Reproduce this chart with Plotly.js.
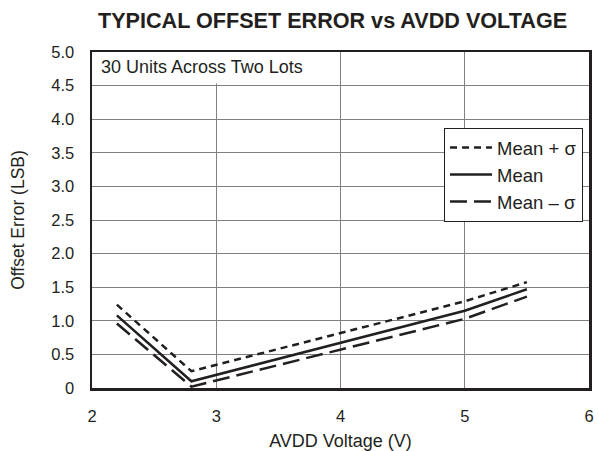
<!DOCTYPE html>
<html>
<head>
<meta charset="utf-8">
<script src="https://cdn.plot.ly/plotly-3.0.1.min.js"></script>
<style>html,body{margin:0;padding:0;background:#fff;}#chart{width:598px;height:451px;}</style>
</head>
<body>
<div id="chart"></div>
<script>
var voltage = [2.2, 2.8, 5.0, 5.5];
var meanPlusSigma = [1.24, 0.25, 1.29, 1.575];
var meanValues = [1.08, 0.10, 1.15, 1.47];
var meanMinusSigma = [0.96, 0.02, 1.03, 1.36];
var seriesNames = ['Mean + \u03c3', 'Mean', 'Mean \u2013 \u03c3'];
var xTicks = [2, 3, 4, 5, 6];
var yTickVals = [0, 0.5, 1, 1.5, 2, 2.5, 3, 3.5, 4, 4.5, 5];
var yTickText = ['0', '0.5', '1.0', '1.5', '2.0', '2.5', '3.0', '3.5', '4.0', '4.5', '5.0'];

var ink = '#231f20';
var font = 'Liberation Sans, Arial, Helvetica, sans-serif';

var traces = [
  {x: voltage, y: meanPlusSigma, name: seriesNames[0], mode: 'lines',
   line: {color: ink, width: 2.5, dash: '7px,5px'}},
  {x: voltage, y: meanValues, name: seriesNames[1], mode: 'lines',
   line: {color: ink, width: 2.5}},
  {x: voltage, y: meanMinusSigma, name: seriesNames[2], mode: 'lines',
   line: {color: ink, width: 2.5, dash: '17px,7px'}}
];

var layout = {
  width: 598, height: 451,
  margin: {l: 92, r: 9, t: 52, b: 62.5},
  paper_bgcolor: '#fff', plot_bgcolor: '#fff',
  font: {family: font, size: 16, color: ink},
  title: {text: '<b>TYPICAL OFFSET ERROR vs AVDD VOLTAGE</b>', font: {family: font, size: 21.6, color: ink},
          x: 0.484, xref: 'paper', xanchor: 'center', y: 0.955, yanchor: 'middle'},
  showlegend: true,
  legend: {x: 0.988, xanchor: 'right', y: 0.774, yanchor: 'top', bgcolor: '#fff',
           bordercolor: ink, borderwidth: 1, font: {family: font, size: 18.5, color: ink},
           itemwidth: 42, tracegroupgap: 0},
  xaxis: {range: [2, 6], tickvals: xTicks, ticktext: xTicks.map(String),
          showgrid: true, gridcolor: '#808080', gridwidth: 1, zeroline: false,
          showline: true, mirror: true, linecolor: ink, linewidth: 2.5,
          ticks: 'outside', ticklen: 12, tickcolor: 'rgba(0,0,0,0)',
          tickfont: {family: font, size: 16.5, color: ink},
          title: {text: 'AVDD Voltage (V)', font: {family: font, size: 18, color: ink}, standoff: 14}},
  yaxis: {range: [0, 5], tickvals: yTickVals, ticktext: yTickText,
          showgrid: true, gridcolor: '#808080', gridwidth: 1, zeroline: false,
          showline: true, mirror: true, linecolor: ink, linewidth: 2.5,
          ticks: 'outside', ticklen: 12, tickcolor: 'rgba(0,0,0,0)',
          tickfont: {family: font, size: 16.5, color: ink},
          title: {text: 'Offset Error (LSB)', font: {family: font, size: 17.5, color: ink}, standoff: 22}},
  shapes: [
    {type: 'rect', xref: 'x', yref: 'y', x0: 2, x1: 3.9, y0: 4.53, y1: 5,
     fillcolor: '#fff', line: {width: 0}, layer: 'between'}
  ],
  annotations: [
    {text: '30 Units Across Two Lots', xref: 'paper', yref: 'paper', x: 0, y: 1,
     xanchor: 'left', yanchor: 'top', xshift: 7, yshift: -3, showarrow: false,
     font: {family: font, size: 18, color: ink}}
  ]
};

Plotly.newPlot('chart', traces, layout, {displayModeBar: false, staticPlot: true});
</script>
</body>
</html>
